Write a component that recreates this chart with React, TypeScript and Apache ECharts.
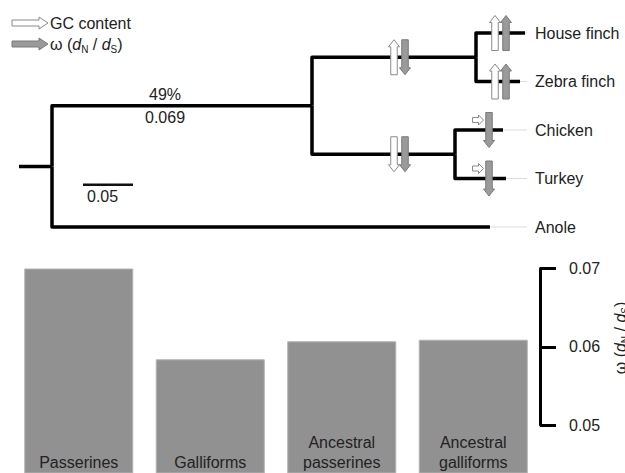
import React, { useEffect, useRef } from "react";
import * as echarts from "echarts";

const FONT = '"Liberation Sans", Arial, Helvetica, sans-serif';

// ---------- phylogeny (branch lengths in substitutions / site) ----------
const nodeNames = ["root", "birds", "passerines", "House finch", "Zebra finch", "galliforms", "Chicken", "Turkey", "Anole"];
const nodeParents: (string | null)[] = [null, "root", "birds", "passerines", "passerines", "birds", "galliforms", "galliforms", "root"];
const branchLengths = [0.033, 0.26, 0.164, 0.049, 0.044, 0.143, 0.048, 0.051, 0.438];
const leafOrder = ["House finch", "Zebra finch", "Chicken", "Turkey", "Anole"];

// change arrows on branches
const arrowBranches = ["passerines", "passerines", "House finch", "House finch", "Zebra finch", "Zebra finch", "galliforms", "galliforms", "Chicken", "Chicken", "Turkey", "Turkey"];
const arrowPositions = [0.375, 0.386, 0.476, 0.487, 0.476, 0.487, 0.375, 0.386, 0.459, 0.47, 0.459, 0.47];
const arrowTraits = ["GC", "omega", "GC", "omega", "GC", "omega", "GC", "omega", "GC", "omega", "GC", "omega"];
const arrowDirections = ["up", "down", "up", "up", "up", "up", "down", "down", "none", "down", "none", "down"];

// branch annotation
const branchLabelNode = "birds";
const branchLabelPosition = 0.146;
const branchSupport = "49%";
const branchOmega = "0.069";

// scale bar
const scaleBarLength = 0.05;
const scaleBarStart = 0.064;
const scaleBarRow = 3.13;

// ---------- bar chart ----------
const barCategories = ["Passerines", "Galliforms", "Ancestral\npasserines", "Ancestral\ngalliforms"];
const barValues = [0.07, 0.0584, 0.0607, 0.0609];
const omegaAxisMin = 0.05;
const omegaAxisMax = 0.07;
const omegaAxisInterval = 0.01;
const barAxisMin = 0.04387;

// ---------- derived tree layout ----------
const idx = (n: string) => nodeNames.indexOf(n);
function cumX(i: number): number {
  const p = nodeParents[i];
  return branchLengths[i] + (p ? cumX(idx(p)) : 0);
}
function rowY(name: string): number {
  const li = leafOrder.indexOf(name);
  if (li >= 0) return li;
  const kids = nodeNames.filter((_, j) => nodeParents[j] === name);
  return kids.reduce((s, k) => s + rowY(k), 0) / kids.length;
}
const nodeX = nodeNames.map((_, i) => cumX(i));
const nodeY = nodeNames.map((n) => rowY(n));
const branchData = nodeNames.map((_, i) => {
  const p = nodeParents[i];
  const px = p ? nodeX[idx(p)] : 0;
  const py = p ? nodeY[idx(p)] : nodeY[i];
  return [px, py, nodeX[i], nodeY[i]];
});
const leafData = leafOrder.map((n) => [nodeX[idx(n)], nodeY[idx(n)]]);
const arrowData = arrowBranches.map((b, i) => [arrowPositions[i], nodeY[idx(b)]]);

const LEADER_END = 0.508;
const LABEL_X = 0.516;

function arrowPoints(cx: number, cy: number, dir: string, L: number, sw: number, hw: number, hl: number) {
  const base = [
    [0, -L / 2],
    [hw / 2, -L / 2 + hl],
    [sw / 2, -L / 2 + hl],
    [sw / 2, L / 2],
    [-sw / 2, L / 2],
    [-sw / 2, -L / 2 + hl],
    [-hw / 2, -L / 2 + hl],
  ];
  return base.map(([x, y]) => {
    if (dir === "down") return [cx + x, cy - y];
    if (dir === "right" || dir === "none") return [cx - y, cy + x];
    return [cx + x, cy + y];
  });
}

const GC_STYLE = { fill: "#ffffff", stroke: "#8a8a8a", lineWidth: 1 };
const W_STYLE = { fill: "#9a9a9a", stroke: "#7a7a7a", lineWidth: 1 };

const omegaRich = {
  i: { fontStyle: "italic", fontSize: 16, fontFamily: FONT, lineHeight: 20, fill: "#222" },
  sub: { fontSize: 10, fontFamily: FONT, lineHeight: 10, verticalAlign: "bottom", fill: "#222" },
};
const omegaText = "ω ({i|d}{sub|N} / {i|d}{sub|S})";

export default function App() {
  const ref = useRef<HTMLDivElement>(null);
  useEffect(() => {
    if (!ref.current) return;
    const chart = echarts.init(ref.current, undefined, { renderer: "svg" });
    const option: any = {
      animation: false,
      backgroundColor: "#ffffff",
      textStyle: { fontFamily: FONT },
      grid: [
        { left: 19, width: 600, top: 33, height: 194 },
        { left: 13, width: 526, top: 268.5, bottom: 0 },
        { left: 540, width: 7, top: 268.5, height: 156.5 },
      ],
      xAxis: [
        { gridIndex: 0, type: "value", min: 0, max: 0.6, show: false },
        { gridIndex: 1, type: "category", data: barCategories, show: false },
        { gridIndex: 2, type: "value", show: false },
      ],
      yAxis: [
        { gridIndex: 0, type: "value", min: 0, max: 4, inverse: true, show: false },
        { gridIndex: 1, type: "value", min: barAxisMin, max: omegaAxisMax, show: false },
        {
          gridIndex: 2,
          type: "value",
          position: "right",
          min: omegaAxisMin,
          max: omegaAxisMax,
          interval: omegaAxisInterval,
          axisLine: { show: true, lineStyle: { color: "#000", width: 3 } },
          axisTick: { show: true, length: 16, lineStyle: { color: "#000", width: 3 } },
          axisLabel: {
            margin: 22,
            fontSize: 16,
            color: "#222",
            fontFamily: FONT,
            formatter: (v: number) => v.toFixed(2),
          },
          splitLine: { show: false },
        },
      ],
      graphic: [
        { type: "polygon", shape: { points: arrowPoints(30, 23, "right", 36, 6, 12, 9) }, style: GC_STYLE },
        { type: "polygon", shape: { points: arrowPoints(30, 44, "right", 36, 6, 12, 9) }, style: W_STYLE },
        {
          type: "text",
          x: 50,
          y: 23,
          style: { text: "GC content", fontSize: 16, fontFamily: FONT, fill: "#222", align: "left", verticalAlign: "middle" },
        },
        {
          type: "text",
          x: 50,
          y: 44,
          style: {
            text: omegaText,
            rich: omegaRich,
            fontSize: 16,
            lineHeight: 20,
            fontFamily: FONT,
            fill: "#222",
            align: "left",
            verticalAlign: "middle",
          },
        },
        {
          type: "text",
          x: 620,
          y: 338,
          rotation: Math.PI / 2,
          style: {
            text: omegaText,
            rich: omegaRich,
            fontSize: 16,
            lineHeight: 20,
            fontFamily: FONT,
            fill: "#222",
            align: "center",
            verticalAlign: "middle",
          },
        },
      ],
      series: [
        {
          type: "custom",
          name: "branches",
          coordinateSystem: "cartesian2d",
          xAxisIndex: 0,
          yAxisIndex: 0,
          data: branchData,
          encode: { x: [0, 2], y: [1, 3] },
          silent: true,
          z: 2,
          renderItem: (params: any, api: any) => {
            const a = api.coord([api.value(0), api.value(1)]);
            const b = api.coord([api.value(0), api.value(3)]);
            const c = api.coord([api.value(2), api.value(3)]);
            return {
              type: "polyline",
              shape: { points: [a, b, c] },
              style: { stroke: "#000", lineWidth: 3.5, fill: null, lineJoin: "round", lineCap: "butt" },
            };
          },
        },
        {
          type: "custom",
          name: "leaves",
          coordinateSystem: "cartesian2d",
          xAxisIndex: 0,
          yAxisIndex: 0,
          data: leafData,
          silent: true,
          z: 1,
          renderItem: (params: any, api: any) => {
            const tip = api.coord([api.value(0), api.value(1)]);
            const end = api.coord([LEADER_END, api.value(1)]);
            const lab = api.coord([LABEL_X, api.value(1)]);
            const children: any[] = [];
            if (end[0] > tip[0]) {
              children.push({
                type: "line",
                shape: { x1: tip[0], y1: tip[1], x2: end[0], y2: end[1] },
                style: { stroke: "#dcdcdc", lineWidth: 1 },
              });
            }
            children.push({
              type: "text",
              x: lab[0],
              y: lab[1],
              style: {
                text: leafOrder[params.dataIndex],
                fill: "#222",
                fontSize: 16,
                fontFamily: FONT,
                align: "left",
                verticalAlign: "middle",
              },
            });
            return { type: "group", children };
          },
        },
        {
          type: "custom",
          name: "arrows",
          coordinateSystem: "cartesian2d",
          xAxisIndex: 0,
          yAxisIndex: 0,
          data: arrowData,
          silent: true,
          z: 5,
          renderItem: (params: any, api: any) => {
            const i = params.dataIndex;
            const p = api.coord([api.value(0), api.value(1)]);
            const dir = arrowDirections[i];
            const style = arrowTraits[i] === "GC" ? GC_STYLE : W_STYLE;
            const pts =
              dir === "none"
                ? arrowPoints(p[0], p[1] - 10, dir, 11, 5, 10, 5)
                : arrowPoints(p[0], p[1], dir, 35, 6.5, 11, 7);
            return { type: "polygon", shape: { points: pts }, style };
          },
        },
        {
          type: "custom",
          name: "branch label",
          coordinateSystem: "cartesian2d",
          xAxisIndex: 0,
          yAxisIndex: 0,
          data: [[branchLabelPosition, nodeY[idx(branchLabelNode)]]],
          silent: true,
          renderItem: (params: any, api: any) => {
            const p = api.coord([api.value(0), api.value(1)]);
            const base = { fill: "#222", fontSize: 16, fontFamily: FONT, align: "center", verticalAlign: "middle" };
            return {
              type: "group",
              children: [
                { type: "text", x: p[0], y: p[1] - 11.5, style: { ...base, text: branchSupport } },
                { type: "text", x: p[0], y: p[1] + 11.5, style: { ...base, text: branchOmega } },
              ],
            };
          },
        },
        {
          type: "custom",
          name: "scale bar",
          coordinateSystem: "cartesian2d",
          xAxisIndex: 0,
          yAxisIndex: 0,
          data: [[scaleBarStart, scaleBarRow, scaleBarStart + scaleBarLength]],
          silent: true,
          renderItem: (params: any, api: any) => {
            const a = api.coord([api.value(0), api.value(1)]);
            const b = api.coord([api.value(2), api.value(1)]);
            return {
              type: "group",
              children: [
                { type: "line", shape: { x1: a[0], y1: a[1], x2: b[0], y2: b[1] }, style: { stroke: "#111", lineWidth: 2.5 } },
                {
                  type: "text",
                  x: a[0] + 4,
                  y: a[1] + 11.5,
                  style: {
                    text: String(scaleBarLength),
                    fill: "#222",
                    fontSize: 16,
                    fontFamily: FONT,
                    align: "left",
                    verticalAlign: "middle",
                  },
                },
              ],
            };
          },
        },
        {
          type: "bar",
          name: "omega",
          xAxisIndex: 1,
          yAxisIndex: 1,
          data: barValues,
          barWidth: 109,
          silent: true,
          itemStyle: { color: "#919191", borderColor: "#b3b3b3", borderWidth: 1 },
          label: {
            show: true,
            position: "insideBottom",
            distance: 1,
            formatter: "{b}",
            color: "#222",
            fontSize: 16,
            lineHeight: 20,
            fontFamily: FONT,
          },
        },
      ],
    };
    chart.setOption(option);
    return () => chart.dispose();
  }, []);
  return (
    <div
      ref={ref}
      style={{ position: "absolute", left: 0, top: 0, width: 625, height: 473, background: "#fff" }}
    />
  );
}
